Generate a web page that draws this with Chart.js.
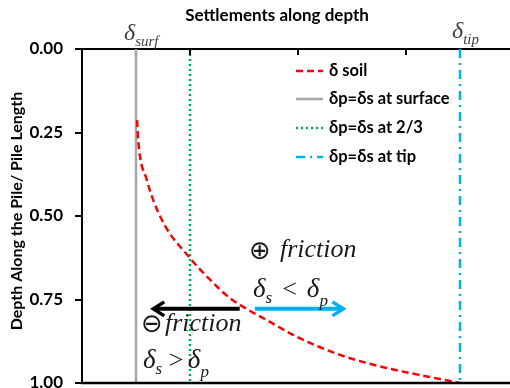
<!DOCTYPE html>
<html><head><meta charset="utf-8">
<script src="https://cdn.jsdelivr.net/npm/chart.js@4"></script>
<style>html,body{margin:0;padding:0;overflow:hidden;background:#fff}canvas{display:block}</style>
</head><body>
<canvas id="c" width="540" height="388"></canvas>
<script>
// ---- data ----
const soilX     = [0.51, 0.52, 0.60, 0.74, 1.00, 1.19, 1.37, 1.54, 1.74, 1.99, 2.39, 2.82, 3.22, 3.50];
const soilDepth = [0.213,0.272,0.392,0.512,0.626,0.692,0.746,0.781,0.817,0.862,0.916,0.955,0.982,1.000];
const surfaceX = 0.5;
const twoThirdX = 1.0;
const tipX = 3.5;
const depthRange = [0, 1];
const depthTicks = [0.00, 0.25, 0.50, 0.75, 1.00];
const seriesNames = ['δ soil', 'δp=δs at surface', 'δp=δs at 2/3', 'δp=δs at tip'];
// annotation arrows (data units): [fromX, toX, depth]
const negArrow = [1.46, 0.66, 0.778];
const posArrow = [1.60, 2.42, 0.778];

const vline = (x) => depthRange.map(d => ({x: x, y: d}));

const datasets = [
  {label: seriesNames[0], data: soilX.map((x, i) => ({x, y: soilDepth[i]})),
   borderColor: '#ff0000', borderWidth: 2.5, borderDash: [7, 4], cubicInterpolationMode: 'monotone'},
  {label: seriesNames[1], data: vline(surfaceX), borderColor: '#a6a6a6', borderWidth: 2.5, borderDash: []},
  {label: seriesNames[2], data: vline(twoThirdX), borderColor: '#00b050', borderWidth: 2.5, borderDash: [2, 3]},
  {label: seriesNames[3], data: vline(tipX), borderColor: '#00b0f0', borderWidth: 2.5, borderDash: [9, 5, 2, 5]}
].map(d => Object.assign({showLine: true, pointRadius: 0, fill: false}, d));

const SERIF = "'Liberation Serif', 'Times New Roman', serif";
const SANS = "Lato, 'Open Sans', sans-serif";

function sub(ctx, main, subs, x, y, size, subSize, subDy) {
  ctx.font = `italic ${size}px ${SERIF}`;
  ctx.fillText(main, x, y);
  const w = ctx.measureText(main).width;
  ctx.font = `italic ${subSize}px ${SERIF}`;
  ctx.fillText(subs, x + w, y + subDy);
  return x + w + ctx.measureText(subs).width;
}

const decor = {
  id: 'decor',
  afterDatasetsDraw(chart) {
    const ctx = chart.ctx, xs = chart.scales.x, ys = chart.scales.y, ca = chart.chartArea;
    ctx.save();
    // bottom frame line
    ctx.strokeStyle = '#000'; ctx.lineWidth = 2.5;
    ctx.beginPath(); ctx.moveTo(ca.left - 1, ca.bottom); ctx.lineTo(ca.right, ca.bottom); ctx.stroke();
    // inward tick marks on top axis
    ctx.lineWidth = 2;
    xs.ticks.forEach(t => {
      if (t.value <= xs.min || t.value >= xs.max) return;
      const px = Math.round(xs.getPixelForValue(t.value));
      ctx.beginPath(); ctx.moveTo(px, ca.top); ctx.lineTo(px, ca.top + 6); ctx.stroke();
    });
    ctx.fillStyle = '#000';
    // titles
    ctx.font = `bold 17px ${SANS}`;
    ctx.textAlign = 'center'; ctx.textBaseline = 'middle';
    ctx.fillText('Settlements along depth', 277, 16);
    ctx.save();
    ctx.translate(17, 211); ctx.rotate(-Math.PI / 2);
    ctx.font = `bold 16px ${SANS}`;
    ctx.fillText('Depth Along the Pile/ Pile Length', 0, 0);
    ctx.restore();
    // delta labels at top
    ctx.textAlign = 'left'; ctx.textBaseline = 'alphabetic';
    ctx.fillStyle = '#404040';
    sub(ctx, 'δ', 'surf', xs.getPixelForValue(surfaceX) - 12, 40, 24, 15, 6);
    sub(ctx, 'δ', 'tip', xs.getPixelForValue(tipX) - 8, 38, 24, 15, 6);
    // legend
    const lgX = 296, lgLen = 27, rows = [71, 99, 128, 157];
    chart.data.datasets.forEach((ds, i) => {
      ctx.save();
      ctx.strokeStyle = ds.borderColor; ctx.lineWidth = 2.5;
      ctx.setLineDash(ds.borderDash || []);
      ctx.beginPath(); ctx.moveTo(lgX, rows[i]); ctx.lineTo(lgX + lgLen, rows[i]); ctx.stroke();
      ctx.restore();
      ctx.fillStyle = '#000';
      ctx.font = `bold 16.5px ${SANS}`;
      ctx.textBaseline = 'middle';
      ctx.fillText(ds.label, lgX + lgLen + 6, rows[i]);
    });
    // arrows
    function arrow(a, color) {
      const x1 = xs.getPixelForValue(a[0]), x2 = xs.getPixelForValue(a[1]), y = ys.getPixelForValue(a[2]);
      const dir = Math.sign(x2 - x1);
      ctx.strokeStyle = color; ctx.lineWidth = 4; ctx.lineCap = 'butt'; ctx.setLineDash([]);
      ctx.beginPath(); ctx.moveTo(x1, y); ctx.lineTo(x2 - dir * 2, y); ctx.stroke();
      ctx.lineWidth = 3.5; ctx.lineJoin = 'miter';
      ctx.beginPath(); ctx.moveTo(x2 - dir * 11, y - 7); ctx.lineTo(x2, y); ctx.lineTo(x2 - dir * 11, y + 7); ctx.stroke();
    }
    arrow(negArrow, '#000000');
    arrow(posArrow, '#00b0f0');
    // friction annotations
    ctx.fillStyle = '#1a1a1a'; ctx.textBaseline = 'alphabetic';
    ctx.font = `26px 'DejaVu Sans', sans-serif`;
    ctx.fillText('⊕', 249, 259);
    ctx.font = `italic 26px ${SERIF}`;
    ctx.fillText('friction', 280, 257);
    ctx.font = `26px 'DejaVu Sans', sans-serif`;
    ctx.fillText('⊖', 141, 332);
    ctx.font = `italic 26px ${SERIF}`;
    ctx.fillText('friction', 165, 331);
    // inequalities
    let x = sub(ctx, 'δ', 's', 253, 297, 27, 17, 6);
    ctx.font = `26px ${SERIF}`; ctx.fillText('  <  ', x - 3, 297);
    x += ctx.measureText('  <  ').width - 6;
    sub(ctx, 'δ', 'p', x, 297, 27, 17, 9);
    x = sub(ctx, 'δ', 's', 143, 368, 27, 17, 6);
    ctx.font = `26px ${SERIF}`; ctx.fillText(' > ', x, 368);
    x += ctx.measureText(' > ').width - 2;
    sub(ctx, 'δ', 'p', x, 368, 27, 17, 9);
    ctx.restore();
  }
};

new Chart(document.getElementById('c'), {
  type: 'scatter',
  data: {datasets},
  plugins: [decor],
  options: {
    responsive: false, animation: false, devicePixelRatio: 1,
    layout: {padding: {left: 0, top: 0, right: 26, bottom: 5}},
    plugins: {legend: {display: false}, tooltip: {enabled: false}, title: {display: false}},
    scales: {
      x: {type: 'linear', position: 'top', min: 0, max: 4,
          afterFit: s => { s.height = 49; },
          ticks: {display: false, stepSize: 1},
          grid: {drawOnChartArea: false, drawTicks: false},
          border: {color: '#000', width: 2}},
      y: {type: 'linear', position: 'left', reverse: true, min: depthRange[0], max: depthRange[1],
          afterFit: s => { s.width = 82; s.paddingBottom = 0; s.paddingTop = 0; },
          afterBuildTicks: s => { s.ticks = depthTicks.map(v => ({value: v})); },
          ticks: {color: '#000', font: {family: SANS, weight: 'bold', size: 17}, padding: 12,
                  callback: v => Number(v).toFixed(2)},
          grid: {drawOnChartArea: false, tickLength: 7, color: '#000', lineWidth: 2},
          border: {color: '#000', width: 2}}
    }
  }
});
</script>
</body></html>
